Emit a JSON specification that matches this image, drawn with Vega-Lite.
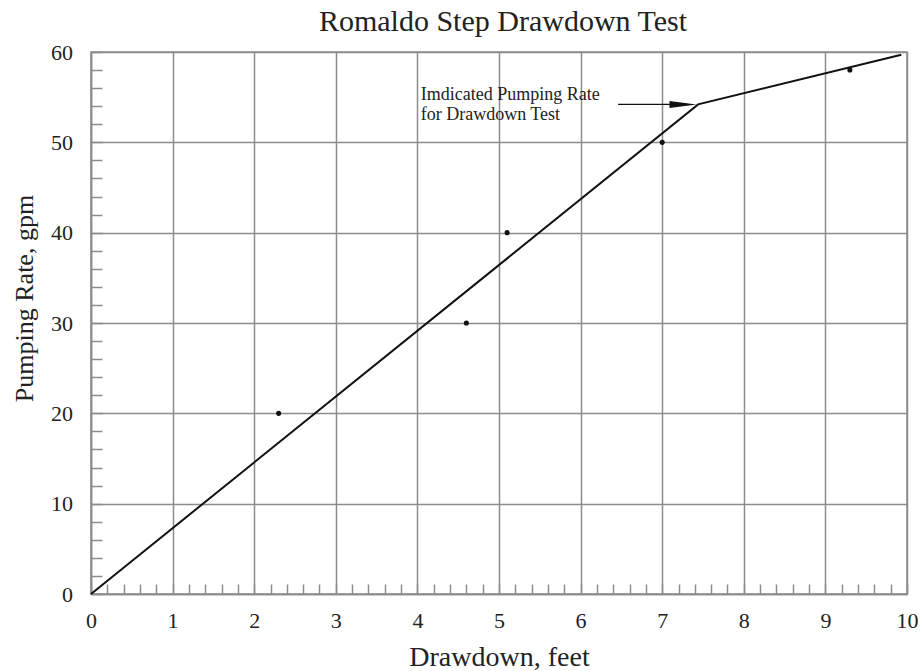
{
  "$schema": "https://vega.github.io/schema/vega-lite/v6.json",
  "autosize": "none",
  "width": 816,
  "height": 542,
  "padding": {"left": 91, "top": 52, "right": 15, "bottom": 77},
  "background": "white",
  "title": {
    "text": "Romaldo Step Drawdown Test",
    "anchor": "middle",
    "frame": "group",
    "font": "Liberation Serif",
    "fontSize": 30,
    "fontWeight": "normal",
    "color": "#222",
    "baseline": "alphabetic",
    "offset": 20,
    "dx": 4,
    "dy": 40
  },
  "config": {
    "view": {"stroke": "#8c8c8c", "strokeWidth": 1.5},
    "axis": {
      "domainColor": "#8c8c8c",
      "domainWidth": 1.5,
      "gridColor": "#8c8c8c",
      "gridWidth": 1.5,
      "tickColor": "#8c8c8c",
      "tickWidth": 1.5,
      "labelFont": "Liberation Serif",
      "labelFontSize": 22,
      "labelColor": "#222",
      "titleFont": "Liberation Serif",
      "titleFontSize": 28,
      "titleFontWeight": "normal",
      "titleColor": "#222"
    }
  },
  "datasets": {
    "fit": [
      {"x": 0, "y": 0},
      {"x": 7.44, "y": 54.2},
      {"x": 9.93, "y": 59.7}
    ],
    "obs": [
      {"x": 2.3, "y": 20},
      {"x": 4.6, "y": 30},
      {"x": 5.1, "y": 40},
      {"x": 7.0, "y": 50},
      {"x": 9.3, "y": 58}
    ],
    "arrow": [
      {"x": 6.46, "y": 54.2},
      {"x": 7.3, "y": 54.2}
    ],
    "head": [
      {"x": 7.255, "y": 54.2}
    ],
    "note": [
      {"x": 4.04, "y": 54.7, "label": ["Imdicated Pumping Rate", "for Drawdown  Test"]}
    ]
  },
  "encoding": {
    "x": {
      "field": "x",
      "type": "quantitative",
      "scale": {"domain": [0, 10], "nice": false, "zero": false},
      "axis": {
        "title": "Drawdown, feet",
        "values": [0, 0.2, 0.4, 0.6, 0.8, 1, 1.2, 1.4, 1.6, 1.8, 2, 2.2, 2.4, 2.6, 2.8, 3, 3.2, 3.4, 3.6, 3.8, 4, 4.2, 4.4, 4.6, 4.8, 5, 5.2, 5.4, 5.6, 5.8, 6, 6.2, 6.4, 6.6, 6.8, 7, 7.2, 7.4, 7.6, 7.8, 8, 8.2, 8.4, 8.6, 8.8, 9, 9.2, 9.4, 9.6, 9.8, 10],
        "format": ".0f",
        "labelExpr": "datum.value % 1 === 0 ? datum.label : ''",
        "labelFlush": false,
        "labelOverlap": false,
        "labelBaseline": "top",
        "grid": true,
        "gridOpacity": {"condition": {"test": "datum.value % 1 === 0", "value": 1}, "value": 0},
        "tickSize": -10,
        "labelPadding": 26,
        "titleX": 408,
        "titleY": 71,
        "titleBaseline": "alphabetic",
        "titleAlign": "center"
      }
    },
    "y": {
      "field": "y",
      "type": "quantitative",
      "scale": {"domain": [0, 60], "nice": false, "zero": false},
      "axis": {
        "title": "Pumping Rate, gpm",
        "titleFontSize": 26,
        "values": [0, 2, 4, 6, 8, 10, 12, 14, 16, 18, 20, 22, 24, 26, 28, 30, 32, 34, 36, 38, 40, 42, 44, 46, 48, 50, 52, 54, 56, 58, 60],
        "format": ".0f",
        "labelExpr": "datum.value % 10 === 0 ? datum.label : ''",
        "labelFlush": false,
        "labelOverlap": false,
        "grid": true,
        "gridOpacity": {"condition": {"test": "datum.value % 10 === 0", "value": 1}, "value": 0},
        "tickSize": -11,
        "labelPadding": 29.5,
        "titleX": -59,
        "titleY": 246,
        "titleAngle": -90,
        "titleBaseline": "alphabetic",
        "titleAlign": "center"
      }
    }
  },
  "layer": [
    {"data": {"name": "fit"}, "mark": {"type": "line", "color": "#111", "strokeWidth": 2}},
    {"data": {"name": "arrow"}, "mark": {"type": "line", "color": "#111", "strokeWidth": 1.3}},
    {"data": {"name": "head"}, "mark": {"type": "point", "shape": "M -1 -0.26 L 1 0 L -1 0.26 Z", "filled": true, "size": 729, "color": "#111", "opacity": 1}},
    {"data": {"name": "obs"}, "mark": {"type": "point", "filled": true, "size": 26, "color": "#111", "opacity": 1}},
    {"data": {"name": "note"}, "mark": {"type": "text", "align": "left", "baseline": "alphabetic", "font": "Liberation Serif", "fontSize": 18, "lineHeight": 20, "color": "#222"}, "encoding": {"text": {"field": "label"}}}
  ]
}
